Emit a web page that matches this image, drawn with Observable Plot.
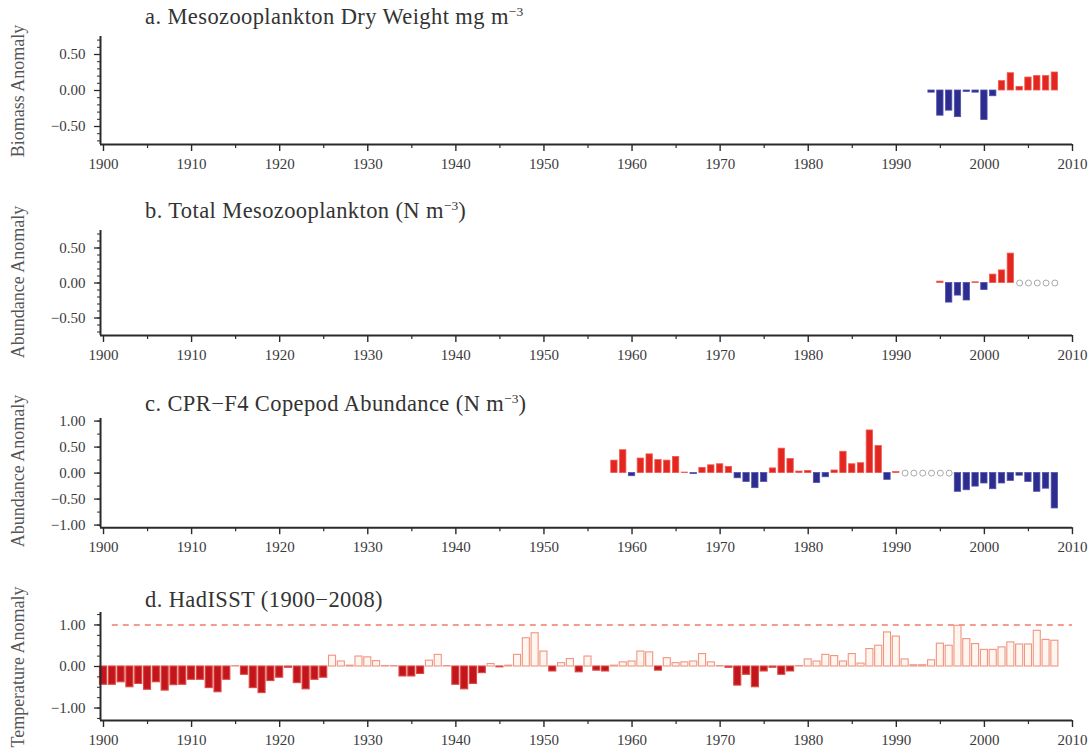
<!DOCTYPE html>
<html><head><meta charset="utf-8">
<script src="https://cdn.jsdelivr.net/npm/d3@7"></script>
<script src="https://cdn.jsdelivr.net/npm/@observablehq/plot@0.6"></script>
<style>
body{margin:0;background:#fff;}
#root{position:relative;width:1092px;height:756px;overflow:hidden;font-family:"Liberation Serif","DejaVu Serif",serif;color:#333;}
.title{position:absolute;left:145px;font-size:22.5px;letter-spacing:0.4px;line-height:1;white-space:nowrap;color:#333;}
.title sup{font-size:0.6em;vertical-align:0.6em;line-height:0;letter-spacing:0;}
.ylab{position:absolute;left:18px;transform:translate(-50%,-50%) rotate(-90deg);font-size:18px;line-height:1;white-space:nowrap;color:#555;}
svg text{font-family:"Liberation Serif","DejaVu Serif",serif;}
</style></head>
<body><div id="root"></div>
<script>
// ---------- data ----------
const titles = [
  "a. Mesozooplankton Dry Weight mg m<sup>−3</sup>",
  "b. Total Mesozooplankton (N m<sup>−3</sup>)",
  "c. CPR−F4 Copepod Abundance (N m<sup>−3</sup>)",
  "d. HadISST (1900−2008)"
];
const yLabels = ["Biomass Anomaly", "Abundance Anomaly", "Abundance Anomaly", "Temperature Anomaly"];

const decadeTicks = [1900, 1910, 1920, 1930, 1940, 1950, 1960, 1970, 1980, 1990, 2000, 2010];
const halfDecadeTicks = [1905, 1915, 1925, 1935, 1945, 1955, 1965, 1975, 1985, 1995, 2005];

// a. Mesozooplankton dry weight (1994–2008)
const aStart = 1994;
const aValues = [-0.03, -0.35, -0.28, -0.37, -0.02, -0.03, -0.41, -0.08, 0.13, 0.24, 0.05, 0.18, 0.20, 0.20, 0.25];

// b. Total mesozooplankton (1995–2008), null = no data (open circle)
const bStart = 1995;
const bValues = [0.02, -0.28, -0.18, -0.25, 0.01, -0.10, 0.12, 0.18, 0.42, null, null, null, null, null];

// c. CPR-F4 copepod abundance (1958–2008)
const cStart = 1958;
const cValues = [0.24, 0.44, -0.06, 0.28, 0.36, 0.25, 0.24, 0.31, 0.01, -0.02,
  0.10, 0.15, 0.17, 0.12, -0.10, -0.17, -0.29, -0.17, 0.09, 0.47,
  0.27, 0.03, 0.04, -0.19, -0.08, 0.05, 0.41, 0.17, 0.19, 0.82,
  0.52, -0.13, 0.02, null, null, null, null, null, null, -0.36,
  -0.33, -0.26, -0.20, -0.31, -0.20, -0.15, -0.05, -0.17, -0.36, -0.30,
  -0.68];

// d. HadISST (1900–2008)
const dStart = 1900;
const dValues = [
  -0.44, -0.44, -0.38, -0.50, -0.42, -0.56, -0.38, -0.58, -0.45, -0.44,
  -0.32, -0.32, -0.52, -0.62, -0.32, 0.01, -0.20, -0.52, -0.64, -0.35,
  -0.27, -0.03, -0.40, -0.55, -0.32, -0.27, 0.26, 0.12, 0.02, 0.24,
  0.22, 0.13, 0.01, 0.01, -0.24, -0.24, -0.18, 0.14, 0.28, 0.01,
  -0.44, -0.55, -0.42, -0.16, 0.06, -0.02, 0.02, 0.28, 0.68, 0.80,
  0.36, -0.12, 0.08, 0.18, -0.14, 0.24, -0.10, -0.12, 0.02, 0.10,
  0.12, 0.36, 0.34, -0.10, 0.20, 0.08, 0.10, 0.12, 0.30, 0.10,
  0.01, -0.03, -0.46, -0.20, -0.50, -0.12, -0.03, -0.20, -0.12, 0.01,
  0.17, 0.12, 0.28, 0.25, 0.12, 0.30, 0.07, 0.42, 0.50, 0.82,
  0.72, 0.17, 0.03, 0.03, 0.15, 0.55, 0.50, 0.98, 0.66, 0.54,
  0.40, 0.40, 0.46, 0.58, 0.53, 0.53, 0.86, 0.64, 0.62];
const dReference = [{value: 1.0, from: 1901, to: 2010}];

// ---------- styling ----------
const RED = "#e3261f", RED_EDGE = "#ee5a50";
const BLUE = "#2c2d8e", BLUE_EDGE = "#5052ad";
const MISSING = "#a9a9a9";
const SST_NEG = "#c2161c", SST_NEG_EDGE = "#dc4943";
const SST_POS = "#fff6ef", SST_POS_EDGE = "#ef9582";
const DASH = "#f07c69";
const AXIS = "#2a2a2a";
const FONT = "'Liberation Serif', 'DejaVu Serif', serif";

const rows = (start, values) => values.map((v, i) => ({year: start + i, value: v}));
const xDomain = [1899.66, 2010];
const root = document.getElementById("root");

function anomalyBars(data) {
  const present = data.filter(d => d.value != null);
  const missing = data.filter(d => d.value == null);
  return [
    Plot.rectY(present, {
      x1: d => d.year - 0.36, x2: d => d.year + 0.36, y1: d => 0, y2: "value",
      fill: d => d.value >= 0 ? RED : BLUE,
      stroke: d => d.value >= 0 ? RED_EDGE : BLUE_EDGE, strokeWidth: 0.8
    }),
    Plot.dot(missing, {x: "year", y: d => 0, r: 3, stroke: MISSING, strokeWidth: 1, fill: "white"})
  ];
}

function sstBars(data) {
  return [
    Plot.ruleY(dReference, {y: "value", x1: "from", x2: "to", stroke: DASH, strokeWidth: 1.6, strokeDasharray: "6,5"}),
    Plot.rectY(data, {
      x1: d => d.year - 0.4, x2: d => d.year + 0.4, y1: d => 0, y2: "value",
      fill: d => d.value >= 0 ? SST_POS : SST_NEG,
      stroke: d => d.value >= 0 ? SST_POS_EDGE : SST_NEG_EDGE, strokeWidth: 1.1
    })
  ];
}

const panels = [
  {yTop: 36, yBottom: 144, yDomain: [-0.75, 0.75], yTicks: [-0.5, 0, 0.5],
   yMinor: d3.range(-7, 8).map(k => k / 10), marks: anomalyBars(rows(aStart, aValues)),
   titleTop: 6, labelY: 91},
  {yTop: 229.5, yBottom: 334.5, yDomain: [-0.75, 0.75], yTicks: [-0.5, 0, 0.5],
   yMinor: d3.range(-7, 8).map(k => k / 10), marks: anomalyBars(rows(bStart, bValues)),
   titleTop: 200, labelY: 282},
  {yTop: 418.4, yBottom: 527.6, yDomain: [-1.05, 1.05], yTicks: [-1, -0.5, 0, 0.5, 1],
   yMinor: d3.range(-4, 5).map(k => k / 4), marks: anomalyBars(rows(cStart, cValues)),
   titleTop: 393, labelY: 471},
  {yTop: 612, yBottom: 720, yDomain: [-1.3, 1.3], yTicks: [-1, 0, 1],
   yMinor: d3.range(-5, 6).map(k => k / 4), marks: sstBars(rows(dStart, dValues)),
   titleTop: 589, labelY: 667}
];

panels.forEach((p, i) => {
  const mt = 10, mb = 40;
  const h = p.yBottom - p.yTop + mt + mb;
  const svg = Plot.plot({
    width: 1092, height: h,
    marginTop: mt, marginBottom: mb, marginLeft: 100, marginRight: 20,
    x: {domain: xDomain},
    y: {domain: p.yDomain},
    style: {fontFamily: FONT, fontSize: "15px", color: AXIS, background: "transparent", overflow: "visible"},
    marks: [
      ...p.marks,
      Plot.axisX({ticks: halfDecadeTicks, tickSize: 4, tickFormat: () => "", label: null, strokeWidth: 1.2}),
      Plot.axisX({ticks: decadeTicks, tickSize: 7, tickPadding: 7, tickFormat: d3.format("d"), label: null, strokeWidth: 1.4, fill: "#3a3a3a"}),
      Plot.axisY({ticks: p.yMinor, tickSize: 3, tickFormat: () => "", label: null, strokeWidth: 1}),
      Plot.axisY({ticks: p.yTicks, tickSize: 6, tickPadding: 9, tickFormat: d3.format(".2f"), label: null, strokeWidth: 1.3, fill: "#3a3a3a"}),
      Plot.ruleX([xDomain[0]], {stroke: AXIS, strokeWidth: 2}),
      Plot.ruleY([p.yDomain[0]], {stroke: AXIS, strokeWidth: 2})
    ]
  });
  svg.style.position = "absolute";
  svg.style.left = "0px";
  svg.style.top = (p.yTop - mt) + "px";
  root.appendChild(svg);

  const t = document.createElement("div");
  t.className = "title";
  t.style.top = p.titleTop + "px";
  t.innerHTML = titles[i];
  root.appendChild(t);

  const yl = document.createElement("div");
  yl.className = "ylab";
  yl.style.top = p.labelY + "px";
  yl.textContent = yLabels[i];
  root.appendChild(yl);
});
</script>
</body></html>
